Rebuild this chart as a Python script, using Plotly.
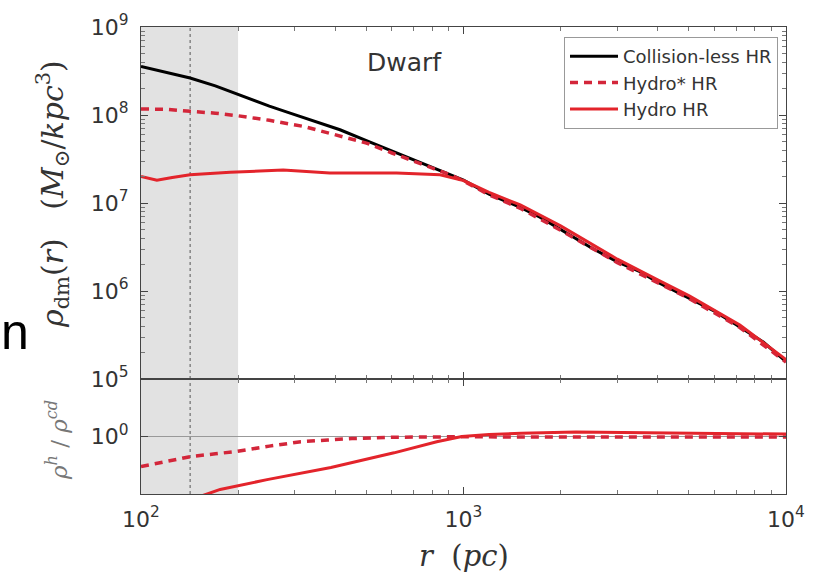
import plotly.graph_objects as go

# ---------------- data ----------------
r_cl = [100, 120, 142, 170, 200, 250, 290, 350, 414, 500, 590, 700, 800, 908,
        1000, 1200, 1500, 1726, 2000, 2466, 3000, 3524, 4000, 5012, 6000, 7194, 8500, 10000]
rho_cl = [3.55e8, 3.02e8, 2.63e8, 2.14e8, 1.70e8, 1.26e8, 1.05e8, 8.3e7, 6.8e7, 5.1e7,
          4.0e7, 3.1e7, 2.57e7, 2.14e7, 1.82e7, 1.26e7, 8.9e6, 6.9e6, 5.0e6, 3.16e6,
          2.14e6, 1.66e6, 1.26e6, 8.3e5, 5.9e5, 3.9e5, 2.63e5, 1.58e5]

r_hs = [100, 120, 142, 170, 200, 250, 320, 400, 500, 600, 700, 800, 908, 1000,
        1200, 1500, 2000, 3000, 4000, 5012, 7194, 10000]
rho_hs = [1.17e8, 1.16e8, 1.10e8, 1.05e8, 9.8e7, 8.7e7, 7.4e7, 6.0e7, 4.8e7, 3.7e7,
          3.0e7, 2.5e7, 2.1e7, 1.78e7, 1.24e7, 8.7e6, 4.9e6, 2.1e6, 1.24e6, 8.2e5,
          3.85e5, 1.56e5]

r_h = [100, 112, 125, 142, 189, 276, 385, 500, 620, 846, 950, 1000, 1200, 1500,
       2000, 2466, 3000, 4000, 5012, 7194, 10000]
rho_h = [2.0e7, 1.82e7, 1.95e7, 2.09e7, 2.24e7, 2.37e7, 2.19e7, 2.19e7, 2.19e7, 2.09e7,
         1.86e7, 1.8e7, 1.32e7, 9.5e6, 5.5e6, 3.5e6, 2.3e6, 1.34e6, 8.8e5, 4.1e5, 1.66e5]

ratio_r_hs = [100, 120, 143, 170, 198, 250, 313, 380, 451, 600, 826, 1000, 1500,
              2200, 3500, 6000, 10000]
ratio_hs = [0.30, 0.37, 0.45, 0.50, 0.55, 0.68, 0.81, 0.87, 0.92, 0.97, 1.0, 0.99,
            0.98, 0.98, 0.98, 0.98, 0.98]

ratio_r_h = [100, 142, 176, 246, 388, 609, 826, 988, 1200, 1510, 2230, 3000, 3730,
             6000, 9300, 10000]
ratio_h = [0.056, 0.079, 0.12, 0.178, 0.29, 0.52, 0.81, 1.0, 1.08, 1.14, 1.2, 1.18,
           1.14, 1.11, 1.1, 1.1]

names = ["Collision-less HR", "Hydro* HR", "Hydro HR"]
shade_r = [100, 200]
res_r = 142
xtick_vals = [100, 1000, 10000]
xtick_text = ["10<sup>2</sup>", "10<sup>3</sup>", "10<sup>4</sup>"]
ytick_vals = [1e5, 1e6, 1e7, 1e8, 1e9]
ytick_text = ["10<sup>5</sup>", "10<sup>6</sup>", "10<sup>7</sup>", "10<sup>8</sup>", "10<sup>9</sup>"]

# ---------------- figure ----------------
RED = "#e3242b"
RED_D = "#d3263a"
FONT = "DejaVu Sans"

fig = go.Figure()
fig.add_trace(go.Scatter(x=r_cl, y=rho_cl, mode="lines", name=names[0],
                         line=dict(color="black", width=3), xaxis="x", yaxis="y"))
fig.add_trace(go.Scatter(x=r_hs, y=rho_hs, mode="lines", name=names[1],
                         line=dict(color=RED_D, width=3.5, dash="8px,6px"), xaxis="x", yaxis="y"))
fig.add_trace(go.Scatter(x=r_h, y=rho_h, mode="lines", name=names[2],
                         line=dict(color=RED, width=3), xaxis="x", yaxis="y"))
fig.add_trace(go.Scatter(x=ratio_r_hs, y=ratio_hs, mode="lines", showlegend=False,
                         line=dict(color=RED_D, width=3.5, dash="8px,6px"), xaxis="x2", yaxis="y2"))
fig.add_trace(go.Scatter(x=ratio_r_h, y=ratio_h, mode="lines", showlegend=False,
                         line=dict(color=RED, width=3), xaxis="x2", yaxis="y2"))

xd = [141 / 819, 786 / 819]
y_up = [1 - 379 / 572, 1 - 27 / 572]
y_lo = [1 - 494 / 572, 1 - 379 / 572]

axcommon = dict(type="log", showgrid=False, zeroline=False, showline=True, automargin=False,
                linecolor="#444", linewidth=1.3, mirror="ticks", ticks="inside",
                ticklen=7, tickwidth=1, tickcolor="#444",
                tickfont=dict(family=FONT, size=22, color="#333"))

minor_x = [v * m for v in [100, 1000] for m in range(2, 10)]
fig.update_layout(
    width=819, height=572, margin=dict(l=0, r=0, t=0, b=0, autoexpand=False),
    paper_bgcolor="white", plot_bgcolor="white",
    xaxis=dict(axcommon, domain=xd, anchor="y", range=[2, 4], tickvals=xtick_vals,
               showticklabels=False,
               minor=dict(ticks="inside", ticklen=4, tickcolor="#777", tickvals=minor_x)),
    yaxis=dict(axcommon, domain=y_up, anchor="x", range=[5, 9], tickvals=ytick_vals,
               ticktext=ytick_text, ticklabelstandoff=7,
               minor=dict(ticks="inside", ticklen=4, tickcolor="#777",
                          tickvals=[v * m for v in [1e5, 1e6, 1e7, 1e8] for m in range(2, 10)])),
    xaxis2=dict(axcommon, domain=xd, anchor="y2", range=[2, 4], tickvals=xtick_vals,
                ticktext=xtick_text, ticklabelstandoff=5, matches="x",
                minor=dict(ticks="inside", ticklen=4, tickcolor="#777", tickvals=minor_x)),
    yaxis2=dict(axcommon, domain=y_lo, anchor="x2", range=[-1, 1], tickvals=[1],
                ticktext=["10<sup>0</sup>"], ticklabelstandoff=7),
    legend=dict(x=778 / 819, xanchor="right", y=1 - 37 / 572, yanchor="top",
                bgcolor="white", bordercolor="#999", borderwidth=1,
                font=dict(family=FONT, size=18, color="#333"), tracegroupgap=0,
                itemwidth=48),
    showlegend=True,
)

# shaded resolution region and dotted line, in both panels
for xr, yr in [("x", "y"), ("x2", "y2")]:
    fig.add_shape(type="rect", xref=xr, yref=f"{yr} domain", x0=shade_r[0], x1=shade_r[1],
                  y0=0, y1=1, fillcolor="#e2e2e2", line=dict(width=0), layer="below")
    fig.add_shape(type="line", xref=xr, yref=f"{yr} domain", x0=res_r, x1=res_r, y0=0, y1=1,
                  line=dict(color="#555", width=1, dash="dot"), layer="below")

fig.add_shape(type="line", xref="x2 domain", yref="y2", x0=0, x1=1, y0=1, y1=1,
              line=dict(color="#999", width=1.2), layer="below")

fig.add_annotation(x=404 / 819, y=1 - 63 / 572, xref="paper", yref="paper",
                   xanchor="center", yanchor="middle",
                   text="Dwarf", showarrow=False,
                   font=dict(family=FONT, size=25, color="#333"))

fig.add_annotation(x=52 / 819, y=1 - 194 / 572, xref="paper", yref="paper", textangle=-90,
                   xanchor="center", yanchor="middle",
                   text="<i>ρ</i><sub>dm</sub>(<i>r</i>)   (<i>M</i><sub>⊙</sub>/<i>kpc</i><sup>3</sup>)",
                   showarrow=False, font=dict(family="DejaVu Serif", size=30, color="#333"))

fig.add_annotation(x=57 / 819, y=1 - 440 / 572, xref="paper", yref="paper", textangle=-90,
                   xanchor="center", yanchor="middle",
                   text="<i>ρ</i><sup><i>h</i></sup> / <i>ρ</i><sup><i>cd</i></sup>",
                   showarrow=False, font=dict(family="DejaVu Serif", size=23, color="#777"))

fig.add_annotation(x=464 / 819, y=-2 / 572, xref="paper", yref="paper",
                   xanchor="center", yanchor="bottom", borderpad=0,
                   text="<i>r</i>  (<i>pc</i>)", showarrow=False,
                   font=dict(family="DejaVu Serif", size=29, color="#333"))

fig.add_annotation(x=0, y=1 - 332 / 572, xref="paper", yref="paper",
                   xanchor="left", yanchor="middle", borderpad=0,
                   text="n", showarrow=False,
                   font=dict(family="Liberation Sans", size=50, color="black"))

fig.write_html("out.html")
